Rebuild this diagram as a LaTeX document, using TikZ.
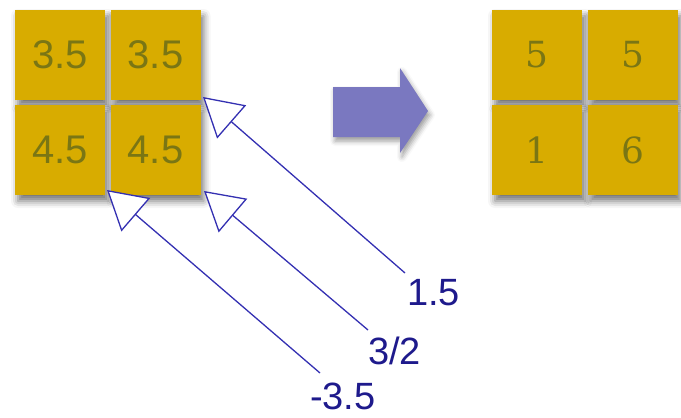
\documentclass[tikz,border=0pt]{standalone}
\usepackage{fontspec}
\newfontfamily\lblfont{Liberation Sans}
\newfontfamily\digfont{DejaVu Serif}
\usetikzlibrary{arrows.meta,shadows.blur}
\definecolor{cellgold}{RGB}{216,172,0}
\definecolor{celltext}{RGB}{122,118,20}
\definecolor{ptrblue}{RGB}{52,48,178}
\definecolor{lblblue}{RGB}{30,26,140}
\definecolor{bigarrow}{RGB}{122,120,192}

\begin{document}
\begin{tikzpicture}[x=1pt,y=-1pt,
cell/.style={rectangle,fill=cellgold,minimum size=90pt,inner sep=0pt,text=celltext,blur shadow={shadow xshift=3pt,shadow yshift=-6pt,shadow blur radius=7pt,shadow opacity=55}},
ptr/.style={draw=ptrblue,line width=1.3pt,-{Triangle[length=38pt,width=44pt,fill=white,line width=1.3pt]}},
lbl/.style={text=lblblue,font=\lblfont\fontsize{38}{40}\selectfont,inner sep=0pt,anchor=north west}]
\useasboundingbox (0,0) rectangle (681,418);
% grid before
\foreach \n/\x/\y/\txt in %
{a/60/55/3.5,b/155.5/55/3.5,c/60/150/4.5,d/155.5/150/4.5} {
   \node[cell,font=\lblfont\fontsize{40}{44}\selectfont] (l\n) at (\x,\y) {\txt};
}
% grid after
\foreach \n/\x/\y/\txt in %
{a/537/55/5,b/632.5/55/5,c/537/150/1,d/632.5/150/6} {
   \node[cell,font=\digfont\fontsize{36}{40}\selectfont] (r\n) at (\x,\y) {\txt};
}
% big arrow
\fill[bigarrow,blur shadow={shadow xshift=2pt,shadow yshift=-4pt,shadow blur radius=5pt,shadow opacity=40}]
   (333,87) -- (400,87) -- (400,68) -- (428,111) -- (400,153) -- (400,137) -- (333,137) -- cycle;
% pointers
\coordinate (t1) at (203,97);
\coordinate (t2) at (204,191);
\coordinate (t3) at (107,190);
\node[lbl] (n1) at (407,279) {1.5};
\node[lbl] (n2) at (368,337) {3/2};
\node[lbl] (n3) at (310,383) {-3.5};
\draw[ptr] ([shift={(-2,-6)}]n1.north west) -- (t1);
\draw[ptr] ([shift={(0,-7)}]n2.north west) -- (t2);
\draw[ptr] ([shift={(10,-10)}]n3.north west) -- (t3);
\end{tikzpicture}
\end{document}
